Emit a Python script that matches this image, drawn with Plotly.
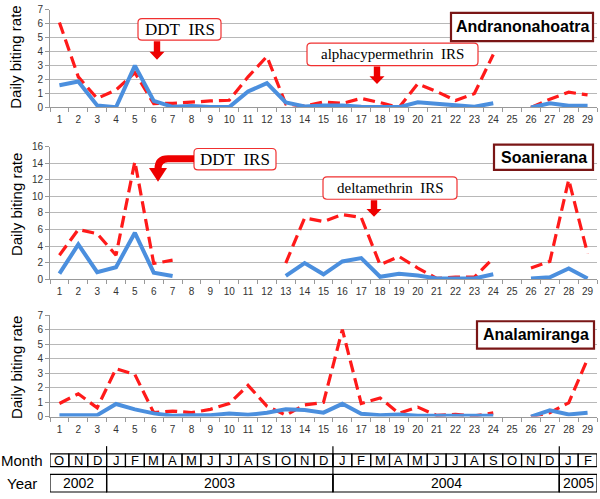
import plotly.graph_objects as go

W, H = 600, 499
N = None
cats = list(range(1, 30))
cat_labels = [str(c) for c in cats]

# Andranonahoatra
a_blue = [1.6, 1.87, 0.15, 0.02, 3.0, 0.47, 0.05, 0.1, 0.03, 0.03, 1.15, 1.75, 0.37, 0.08, 0.15,
          0.15, 0.05, 0.05, 0.03, 0.37, 0.25, 0.15, 0.05, 0.3, N, 0.0, 0.3, 0.12, 0.12]
a_red = [6.1, 2.2, 0.65, 1.26, 2.5, 0.28, 0.3, 0.4, 0.47, 0.52, 2.2, 3.66, 0.25, 0.1, 0.4,
         0.3, 0.65, 0.35, 0.0, 1.7, 1.15, 0.5, 1.0, 3.8, N, 0.0, 0.6, 1.1, 0.9]
# Soanierana
s_blue = [0.67, 4.2, 0.86, 1.45, 5.6, 0.8, 0.4, N, N, N, N, N, 0.4, 1.95, 0.6,
          2.15, 2.55, 0.3, 0.65, 0.45, 0.1, 0.1, 0.1, 0.6, N, 0.1, 0.25, 1.3, 0.1]
s_red = [2.9, 6.0, 5.5, 2.9, 14.2, 1.9, 2.3, N, N, N, N, N, 1.95, 7.4, 6.95,
         7.8, 7.45, 1.75, 2.75, 1.35, 0.1, 0.25, 0.25, 2.55, N, 1.35, 2.15, 12.0, 3.1]
# Analamiranga
n_blue = [0.1, 0.1, 0.1, 0.87, 0.5, 0.22, 0.05, 0.1, 0.1, 0.22, 0.12, 0.27, 0.5, 0.45, 0.27,
          0.88, 0.2, 0.1, 0.15, 0.05, 0.05, 0.05, 0.05, 0.05, N, 0.0, 0.43, 0.15, 0.27]
n_red = [0.9, 1.57, 0.6, 3.3, 2.9, 0.27, 0.38, 0.27, 0.5, 0.9, 2.15, 0.72, 0.1, 0.8, 0.98,
         6.0, 0.9, 1.28, 0.22, 0.65, 0.08, 0.15, 0.05, 0.25, N, 0.0, 0.27, 0.95, 3.97]

months = ["O", "N", "D", "J", "F", "M", "A", "M", "J", "J", "A", "S", "O", "N", "D",
          "J", "F", "M", "A", "M", "J", "J", "A", "S", "O", "N", "D", "J", "F"]
year_labels = ["2002", "2003", "2004", "2005"]
year_spans = [3, 12, 12, 2]

site_names = ["Andranonahoatra", "Soanierana", "Analamiranga"]
y_ranges = [[0, 7], [0, 16], [0, 7]]
y_dticks = [1, 2, 1]

BLUE = "#4b8fde"
RED = "#ff1a1a"


def X(p):
    return p / W


def Y(p):
    return 1 - p / H


# panel pixel extents (top, bottom)
panels = [(4, 104), (144, 280), (316.7, 420.7)]
x0p, x1p = 50, 597

fig = go.Figure()
series = [(a_blue, a_red), (s_blue, s_red), (n_blue, n_red)]
for i, (b, r) in enumerate(series):
    xa = "x" if i == 0 else f"x{i+1}"
    ya = "y" if i == 0 else f"y{i+1}"
    fig.add_trace(go.Scatter(x=cats, y=r, mode="lines", xaxis=xa, yaxis=ya,
                             line=dict(color=RED, width=3.2, dash="12px,6px"),
                             connectgaps=False, showlegend=False))
    fig.add_trace(go.Scatter(x=cats, y=b, mode="lines", xaxis=xa, yaxis=ya,
                             line=dict(color=BLUE, width=4),
                             connectgaps=False, showlegend=False))

layout = dict(width=W, height=H, margin=dict(l=0, r=0, t=0, b=0),
              paper_bgcolor="white", plot_bgcolor="white",
              font=dict(family="Liberation Sans, Arial", color="#333"))
for i, (top, bot) in enumerate(panels):
    k = "" if i == 0 else str(i + 1)
    layout["xaxis" + k] = dict(domain=[X(x0p), X(x1p)], range=[0.5, 29.5],
                               anchor="y" + k, tickmode="array", tickvals=cats,
                               ticktext=cat_labels, ticks="", showgrid=False,
                               showline=True, linecolor="#999", linewidth=1,
                               tickfont=dict(size=10, color="#333"), zeroline=False,
                               ticklabelstandoff=3,
                               minor=dict(tickmode="linear", tick0=0.5, dtick=1,
                                          ticks="outside", ticklen=4, tickcolor="#999",
                                          showgrid=False))
    layout["yaxis" + k] = dict(domain=[Y(bot), Y(top)], range=y_ranges[i],
                               anchor="x" + k, dtick=y_dticks[i], showgrid=True,
                               gridcolor="#b8b8b8", gridwidth=1, showline=True,
                               linecolor="#999", ticks="outside", ticklen=4,
                               tickcolor="#999", tickfont=dict(size=10, color="#333"),
                               zeroline=False)
fig.update_layout(**layout)

shapes = []
annotations = []


def rrect(x0, y0, x1, y1, r):
    pts = [("M", x0 + r, y0), ("L", x1 - r, y0), ("Q", x1, y0, x1, y0 + r),
           ("L", x1, y1 - r), ("Q", x1, y1, x1 - r, y1), ("L", x0 + r, y1),
           ("Q", x0, y1, x0, y1 - r), ("L", x0, y0 + r), ("Q", x0, y0, x0 + r, y0)]
    s = ""
    for p in pts:
        if p[0] == "Q":
            s += f"Q {X(p[1])},{Y(p[2])} {X(p[3])},{Y(p[4])} "
        else:
            s += f"{p[0]} {X(p[1])},{Y(p[2])} "
    return s + "Z"


def down_arrow(cx, y0, y1, y2, sw, hw):
    pts = [(cx - sw, y0), (cx + sw, y0), (cx + sw, y1), (cx + hw, y1), (cx, y2),
           (cx - hw, y1), (cx - sw, y1)]
    return "M " + " L ".join(f"{X(a)},{Y(b)}" for a, b in pts) + " Z"


def callout(x0, y0, x1, y1, text, size):
    shapes.append(dict(type="path", xref="paper", yref="paper", path=rrect(x0, y0, x1, y1, 4),
                       line=dict(color="#f03030", width=1.2), fillcolor="white"))
    annotations.append(dict(x=X((x0 + x1) / 2), y=Y((y0 + y1) / 2), xref="paper", yref="paper",
                            text=text, showarrow=False,
                            font=dict(family="Liberation Serif, Times New Roman", size=size,
                                      color="black"), xanchor="center", yanchor="middle"))


def site_box(x0, y0, x1, y1, text):
    shapes.append(dict(type="rect", xref="paper", yref="paper", x0=X(x0), x1=X(x1),
                       y0=Y(y1), y1=Y(y0), line=dict(color="#7a1616", width=2.2),
                       fillcolor="white"))
    annotations.append(dict(x=X((x0 + x1) / 2), y=Y((y0 + y1) / 2), xref="paper", yref="paper",
                            text=f"<b>{text}</b>", showarrow=False,
                            font=dict(family="Liberation Sans, Arial", size=16, color="black"),
                            xanchor="center", yanchor="middle"))


# Panel 1 callouts
callout(138, 13, 221, 35, "DDT&nbsp;&nbsp;IRS", 17)
shapes.append(dict(type="path", xref="paper", yref="paper",
                   path=down_arrow(157, 36, 47, 55, 3.2, 7.5), line=dict(width=0), fillcolor="#ee0000"))
callout(307, 38, 478, 61, "alphacypermethrin&nbsp;&nbsp;IRS", 15)
shapes.append(dict(type="path", xref="paper", yref="paper",
                   path=down_arrow(377, 62, 72, 80, 3.2, 7.5), line=dict(width=0), fillcolor="#ee0000"))
site_box(451, 7, 593, 36, site_names[0])

# Panel 2 callouts
callout(194, 146, 276, 168, "DDT&nbsp;&nbsp;IRS", 17)
shapes.append(dict(type="path", xref="paper", yref="paper",
                   path=f"M {X(194)},{Y(156.5)} L {X(168)},{Y(156.5)} Q {X(158)},{Y(156.5)} {X(158)},{Y(167)}",
                   line=dict(color="#ee0000", width=7)))
shapes.append(dict(type="path", xref="paper", yref="paper",
                   path=f"M {X(149)},{Y(166)} L {X(167)},{Y(166)} L {X(158)},{Y(180)} Z",
                   line=dict(width=0), fillcolor="#ee0000"))
callout(323, 175, 457, 198, "deltamethrin&nbsp;&nbsp;IRS", 15)
shapes.append(dict(type="path", xref="paper", yref="paper",
                   path=down_arrow(374, 199, 208, 216, 3.2, 7.5), line=dict(width=0), fillcolor="#ee0000"))
site_box(494, 142, 593, 168, site_names[1])

# Panel 3
site_box(477, 323, 594, 351, site_names[2])

# Y axis titles
for cy in [53, 204, 371]:
    annotations.append(dict(x=X(16), y=Y(cy), xref="paper", yref="paper", text="Daily biting rate",
                            textangle=-90, showarrow=False,
                            font=dict(family="Liberation Sans, Arial", size=15, color="black"),
                            xanchor="center", yanchor="middle"))

# Bottom table (months / years)
m_top, m_bot = 459, 472
y_top, y_bot = 480, 498
for i, m in enumerate(months):
    c = cats[i]
    shapes.append(dict(type="rect", xref="x3", yref="paper", x0=c - 0.5, x1=c + 0.5,
                       y0=Y(m_bot), y1=Y(m_top), line=dict(color="black", width=1.2)))
    annotations.append(dict(x=c, y=Y((m_top + m_bot) / 2 + 0.5), xref="x3", yref="paper", text=m,
                            showarrow=False, font=dict(family="Liberation Sans, Arial", size=13,
                                                       color="black"),
                            xanchor="center", yanchor="middle"))
start = 0.5
for lab, span in zip(year_labels, year_spans):
    end = start + span
    shapes.append(dict(type="rect", xref="x3", yref="paper", x0=start, x1=end,
                       y0=Y(y_bot), y1=Y(y_top), line=dict(color="black", width=1.2)))
    annotations.append(dict(x=(start + end) / 2, y=Y((y_top + y_bot) / 2), xref="x3", yref="paper",
                            text=lab, showarrow=False,
                            font=dict(family="Liberation Sans, Arial", size=14, color="black"),
                            xanchor="center", yanchor="middle"))
    if end < 29.5:
        shapes.append(dict(type="line", xref="x3", yref="paper", x0=end, x1=end,
                           y0=Y(y_bot), y1=Y(451), line=dict(color="black", width=1.2)))
    start = end

annotations.append(dict(x=X(22), y=Y(465.5), xref="paper", yref="paper", text="Month", showarrow=False,
                        font=dict(family="Liberation Sans, Arial", size=15, color="black"),
                        xanchor="center", yanchor="middle"))
annotations.append(dict(x=X(22), y=Y(489), xref="paper", yref="paper", text="Year", showarrow=False,
                        font=dict(family="Liberation Sans, Arial", size=15, color="black"),
                        xanchor="center", yanchor="middle"))

fig.update_layout(shapes=shapes, annotations=annotations)
fig.write_html("out.html", config={"displayModeBar": False},
               post_script="document.body.style.margin='0';document.body.style.overflow='hidden';"
                           "document.documentElement.style.overflow='hidden';")
